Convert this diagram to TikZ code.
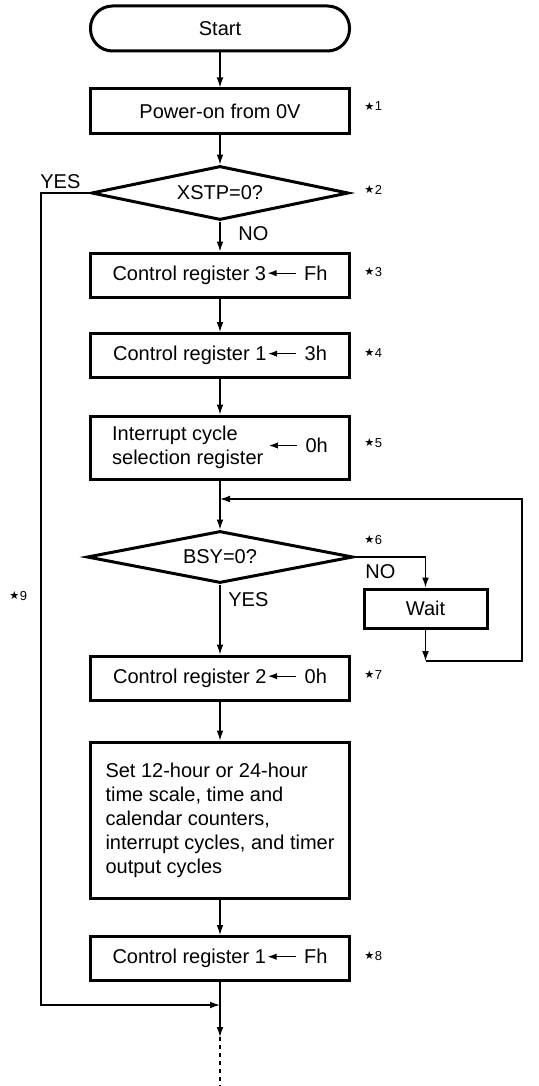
\documentclass[tikz,border=0pt]{standalone}
\usepackage{fontspec}
\setmainfont{Liberation Sans}
\newfontfamily\symfont{DejaVu Sans}
\usetikzlibrary{arrows.meta}
\usetikzlibrary{shapes.geometric}

\newcommand\getsarrow{\tikz[baseline=-3.5pt]\draw[line width=0.6pt,-{Latex[length=4.5pt,width=3.2pt]}] (14pt,0) -- (0,0);}
\newcommand\starnote[1]{\raisebox{0.4pt}{\fontsize{5.6}{6}\symfont ★}\hspace{0.2pt}#1}

\begin{document}
\begin{tikzpicture}[x=0.5pt, y=-0.5pt,
    every node/.style={font=\fontsize{10}{12}\selectfont},
    box/.style={draw, line width=1.5pt, minimum width=129.5pt, minimum height=22pt, inner sep=0pt},
    decision/.style={draw, diamond, line width=1.5pt, aspect=4.8, inner sep=0pt},
    flow/.style={line width=0.65pt, -{Latex[length=5pt,width=3.4pt]}},
    line/.style={line width=0.65pt},
    note/.style={inner sep=0pt, anchor=base west, font=\fontsize{6.5}{7}\selectfont},
    answer/.style={inner sep=0pt, anchor=base west}]
    \useasboundingbox (0,0) rectangle (538,1086);

    \node[box, rounded corners=11pt, minimum height=22.5pt] (start) at (220,28.5) {Start};
    \node[box] (power) at (220,111) {Power-on from 0V};
    \node[decision, minimum width=128.5pt, minimum height=27pt] (xstp) at (220,193) {XSTP=0?};
    \node[box] (cr3) at (220,275) {Control register 3\hspace{0.5pt}\getsarrow\hspace{4pt}Fh};
    \node[box] (cr1a) at (220,355.5) {Control register 1\hspace{0.5pt}\getsarrow\hspace{4pt}3h};
    \node[box, minimum height=31.5pt] (icsr) at (220,447.5)
      {\begin{tabular}{@{}l@{}}Interrupt cycle\\selection register\end{tabular}\hspace{2.5pt}\getsarrow\hspace{4pt}0h};
    \node[decision, minimum width=133pt, minimum height=26pt] (bsy) at (220,557) {BSY=0?};
    \node[box, minimum width=61.5pt, minimum height=19.5pt] (wait) at (425.5,608.5) {Wait};
    \node[box] (cr2) at (220,678) {Control register 2\hspace{0.5pt}\getsarrow\hspace{4pt}0h};
    \node[box, minimum height=78pt, align=left] (setup) at (220,820)
      {Set 12-hour or 24-hour\\time scale, time and\\calendar counters,\\interrupt cycles, and timer\\output cycles};
    \node[box] (cr1b) at (220,958.5) {Control register 1\hspace{0.5pt}\getsarrow\hspace{4pt}Fh};

    \node[note] (n1) at (364,111) {\starnote{1}};
    \node[note] (n2) at (364,194) {\starnote{2}};
    \node[note] (n3) at (364,276) {\starnote{3}};
    \node[note] (n4) at (364,357) {\starnote{4}};
    \node[note] (n5) at (364,447) {\starnote{5}};
    \node[note] (n6) at (364,544) {\starnote{6}};
    \node[note] (n7) at (364,679) {\starnote{7}};
    \node[note] (n8) at (364,960) {\starnote{8}};
    \node[note] (n9) at (9,600) {\starnote{9}};

    \node[answer] (yes1) at (40,188) {YES};
    \node[answer] (no1) at (238,240) {NO};
    \node[answer] (no2) at (365,578) {NO};
    \node[answer] (yes2) at (228,606) {YES};

    \coordinate (yesleft) at (41,193);
    \coordinate (merge) at (220,499);
    \coordinate (loopa) at (425.5,661);
    \coordinate (loopc) at (522,499);
    \coordinate (join) at (220,1005);
    \coordinate (cont) at (220,1037);
    \coordinate (bottom) at (220,1086);

    \draw[flow] (start) -- (power);
    \draw[flow] (power) -- (xstp);
    \draw[flow] (xstp) -- (cr3);
    \draw[flow] (cr3) -- (cr1a);
    \draw[flow] (cr1a) -- (icsr);
    \draw[flow] (icsr) -- (bsy);
    \draw[flow] (bsy.east) -| (wait);
    \draw[flow] (wait) -- (loopa);
    \draw[flow] (loopa) -| (loopc) -- (merge);
    \draw[flow] (bsy) -- (cr2);
    \draw[flow] (cr2) -- (setup);
    \draw[flow] (setup) -- (cr1b);
    \draw[line] (cr1b) -- (join);
    \draw[flow] (xstp.west) -- (yesleft) |- (join);
    \draw[flow] (join) -- (cont);
    \draw[line, dash pattern=on 2pt off 2pt] (cont) -- (bottom);
\end{tikzpicture}
\end{document}
